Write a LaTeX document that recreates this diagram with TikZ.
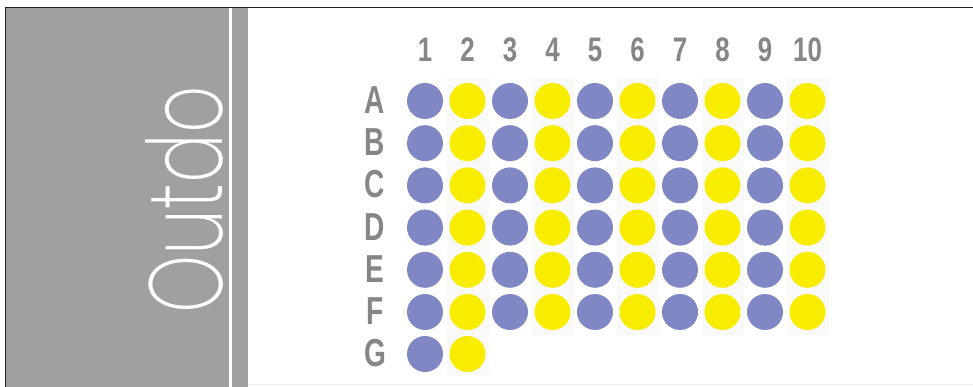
\documentclass[tikz,border=0pt]{standalone}
\usepackage{fontspec}
\setmainfont{Liberation Sans}
\newfontfamily\thinfont{Poppins ExtraLight}
\definecolor{panelgray}{HTML}{A0A0A0}
\definecolor{labelgray}{HTML}{868686}
\definecolor{wellblue}{HTML}{7F88C4}
\definecolor{wellyellow}{HTML}{F8EC00}
\definecolor{stripe}{HTML}{F9F9F9}
\definecolor{frame}{HTML}{231F20}
\tikzset{
  collab/.style={text=labelgray, font=\bfseries\fontsize{34}{34}\selectfont, inner sep=0pt, xscale=0.76},
  rowlab/.style={text=labelgray, font=\bfseries\fontsize{39}{39}\selectfont, inner sep=0pt, xscale=0.72},
  well/.style={circle, inner sep=0pt, minimum size=36pt},
  bluewell/.style={well, fill=wellblue},
  yellowwell/.style={well, fill=wellyellow},
}
\begin{document}
\begin{tikzpicture}[x=1pt,y=-1pt]
\useasboundingbox (0,0) rectangle (973,387);
\fill[white] (0,0) rectangle (973,387);
% left panel
\fill[panelgray] (6,7.5) rectangle (248,387);
\fill[white] (229,7.5) rectangle (232,387);
\draw[frame, line width=1.2pt] (5.5,387) -- (5.5,7.5) -- (973,7.5);
\draw[gray!15, line width=0.8pt] (248,384.5) -- (973,384.5);
\node[text=white, rotate=90, inner sep=0pt] (title) at (184,200)
  {\scalebox{0.71}[1]{\thinfont\fontsize{104}{104}\selectfont Outdo}};
% faint column backgrounds
\foreach \c in {2,4,6,8,10}{
  \pgfmathsetmacro{\xc}{425+42.5*(\c-1)}
  \fill[stripe] (\xc-21,78) rectangle (\xc+21,335);
}
\fill[stripe] (467.5-21,335) rectangle (467.5+21,375);
% column labels
\foreach \c in {1,...,10}{
  \pgfmathsetmacro{\xc}{425+42.5*(\c-1)}
  \node[collab] (col\c) at (\xc,50) {\c};
}
% rows
\foreach \r/\name [count=\j] in {A/A,B/B,C/C,D/D,E/E,F/F}{
  \pgfmathsetmacro{\yc}{101+42.2*(\j-1)}
  \node[rowlab] (row\name) at (375,\yc-1) {\name};
  \foreach \c in {1,...,10}{
    \pgfmathsetmacro{\xc}{425+42.5*(\c-1)}
    \pgfmathtruncatemacro{\odd}{mod(\c,2)}
    \ifnum\odd=1
      \node[bluewell] (w\name\c) at (\xc,\yc) {};
    \else
      \node[yellowwell] (w\name\c) at (\xc,\yc) {};
    \fi
  }
}
\node[rowlab] (rowG) at (375,353) {G};
\node[bluewell] (wG1) at (425,354) {};
\node[yellowwell] (wG2) at (467.5,354) {};
\end{tikzpicture}
\end{document}
